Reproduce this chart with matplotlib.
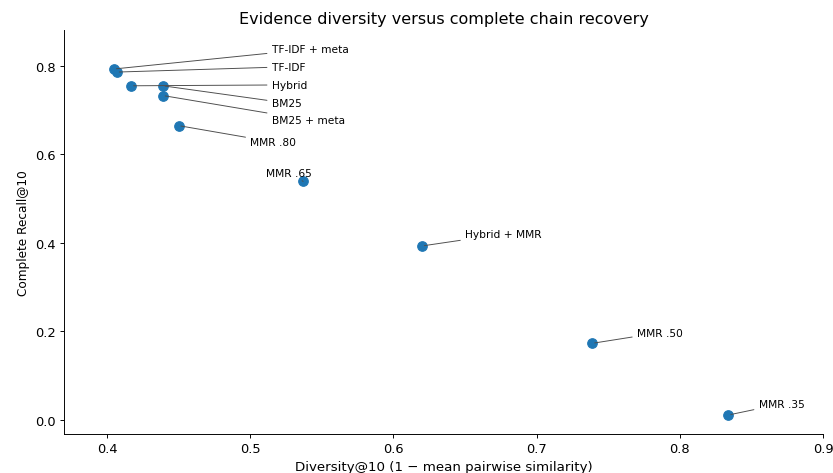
import matplotlib
matplotlib.use("Agg")
import matplotlib.pyplot as plt

labels = ["TF-IDF + meta", "TF-IDF", "Hybrid", "BM25", "BM25 + meta",
          "MMR .80", "MMR .65", "Hybrid + MMR", "MMR .50", "MMR .35"]
diversity = [0.405, 0.407, 0.417, 0.439, 0.439, 0.450, 0.537, 0.620, 0.739, 0.834]
recall = [0.793, 0.786, 0.755, 0.755, 0.733, 0.665, 0.539, 0.393, 0.173, 0.011]
label_x = [0.515, 0.515, 0.515, 0.515, 0.515, 0.500, 0.511, 0.650, 0.770, 0.855]
label_y = [0.838, 0.798, 0.757, 0.716, 0.678, 0.628, 0.557, 0.420, 0.197, 0.036]

fig = plt.figure(figsize=(9.8, 5.576), dpi=85)
ax = fig.add_axes([64/833, 1-435/474, (823-64)/833, (435-31)/474])

ax.scatter(diversity, recall, s=65, color="#1f77b4", zorder=3)
for lab, x, y, tx, ty in zip(labels, diversity, recall, label_x, label_y):
    ax.annotate(lab, xy=(x, y), xytext=(tx, ty), fontsize=9, va="center", ha="left",
                arrowprops=dict(arrowstyle="-", color="0.3", lw=0.8))

ax.set_xlim(0.37, 0.9)
ax.set_ylim(-0.032, 0.881)
ax.set_xticks([0.4, 0.5, 0.6, 0.7, 0.8, 0.9])
ax.set_yticks([0.0, 0.2, 0.4, 0.6, 0.8])
ax.tick_params(labelsize=11)
ax.set_xlabel("Diversity@10 (1 \u2212 mean pairwise similarity)", fontsize=11.3)
ax.set_ylabel("Complete Recall@10", fontsize=10.3)
ax.set_title("Evidence diversity versus complete chain recovery", fontsize=13.5)
ax.spines["top"].set_visible(False)
ax.spines["right"].set_visible(False)

fig.savefig("out.png", dpi=85)
